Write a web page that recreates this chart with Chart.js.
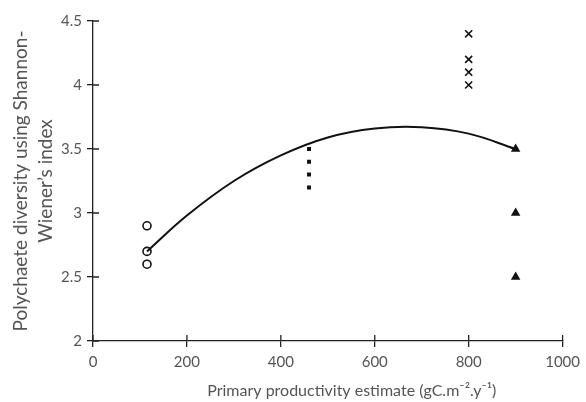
<!DOCTYPE html>
<html>
<head>
<meta charset="utf-8">
<script src="https://cdn.jsdelivr.net/npm/chart.js@4/dist/chart.umd.min.js"></script>
<style>
  html, body { margin: 0; padding: 0; background: #fff; }
  #wrap { width: 586px; height: 402px; }
</style>
</head>
<body>
<div id="wrap"><canvas id="chart"></canvas></div>
<script>
// Data
const circleX = [115, 115, 115];
const circleY = [2.9, 2.7, 2.6];
const squareX = [460, 460, 460, 460];
const squareY = [3.5, 3.4, 3.3, 3.2];
const crossX = [800, 800, 800, 800];
const crossY = [4.4, 4.2, 4.1, 4.0];
const triangleX = [900, 900, 900];
const triangleY = [3.5, 3.0, 2.5];

// Trend curve, read at several points along it
const curveX = [115, 200, 300, 400, 500, 600, 700, 800, 900];
const curveY = [2.70, 2.98, 3.25, 3.45, 3.59, 3.66, 3.67, 3.62, 3.50];

const xTicks = [0, 200, 400, 600, 800, 1000];
const yTicks = [2, 2.5, 3, 3.5, 4, 4.5];

const pts = (xs, ys) => xs.map((x, i) => ({ x: x, y: ys[i] }));

const fontFamily = "Lato, 'Open Sans', sans-serif";

// Tick marks that cross the axis lines (inner half)
const innerTicks = {
    id: 'innerTicks',
    afterDraw(chart) {
        const ctx = chart.ctx;
        const xs = chart.scales.x;
        const ys = chart.scales.y;
        ctx.save();
        ctx.strokeStyle = '#222';
        ctx.lineWidth = 1.3;
        ctx.beginPath();
        xTicks.forEach(v => {
            const px = xs.getPixelForValue(v);
            ctx.moveTo(px, ys.bottom);
            ctx.lineTo(px, ys.bottom - 6);
        });
        yTicks.forEach(v => {
            const py = ys.getPixelForValue(v);
            ctx.moveTo(xs.left, py);
            ctx.lineTo(xs.left + 6, py);
        });
        ctx.stroke();
        ctx.restore();
    }
};

new Chart(document.getElementById('chart'), {
    type: 'scatter',
    data: {
        datasets: [
            {
                type: 'line',
                data: pts(curveX, curveY),
                borderColor: '#111',
                borderWidth: 2,
                pointRadius: 0,
                tension: 0.4,
                fill: false
            },
            {
                data: pts(circleX, circleY),
                pointStyle: 'circle',
                pointRadius: 4,
                pointBorderWidth: 1.6,
                pointBorderColor: '#111',
                pointBackgroundColor: 'rgba(255,255,255,0)'
            },
            {
                data: pts(squareX, squareY),
                pointStyle: 'rect',
                pointRadius: 2.8,
                pointBorderWidth: 0,
                pointBackgroundColor: '#111'
            },
            {
                data: pts(crossX, crossY),
                pointStyle: 'crossRot',
                pointRadius: 5,
                pointBorderWidth: 1.6,
                pointBorderColor: '#111'
            },
            {
                data: pts(triangleX, triangleY),
                pointStyle: 'triangle',
                pointRadius: 5.5,
                pointBorderWidth: 0,
                pointBackgroundColor: '#111'
            }
        ]
    },
    options: {
        responsive: true,
        maintainAspectRatio: false,
        animation: false,
        layout: { padding: { top: 21, right: 19, left: 0, bottom: 0 } },
        plugins: {
            legend: { display: false },
            tooltip: { enabled: false }
        },
        scales: {
            x: {
                type: 'linear',
                min: 0,
                max: 1000,
                afterBuildTicks: axis => { axis.ticks = xTicks.map(v => ({ value: v })); },
                border: { display: true, color: '#222', width: 1.3 },
                grid: { drawOnChartArea: false, tickLength: 6, color: '#222', lineWidth: 1.3 },
                ticks: {
                    color: '#555',
                    font: { family: fontFamily, size: 15 },
                    padding: 6,
                    callback: v => String(v)
                },
                title: {
                    display: true,
                    text: '\u2003\u2003\u2003\u2003Primary productivity estimate (gC.m\u207B\u00B2.y\u207B\u00B9)',
                    color: '#555',
                    font: { family: fontFamily, size: 16 },
                    padding: { top: 0, bottom: 2 }
                },
                afterFit: axis => { axis.height = 61; }
            },
            y: {
                type: 'linear',
                min: 2,
                max: 4.5,
                afterBuildTicks: axis => { axis.ticks = yTicks.map(v => ({ value: v })); },
                border: { display: true, color: '#222', width: 1.3 },
                grid: { drawOnChartArea: false, tickLength: 6, color: '#222', lineWidth: 1.3 },
                ticks: {
                    color: '#555',
                    font: { family: fontFamily, size: 15 },
                    padding: 5,
                    callback: v => String(v)
                },
                title: {
                    display: true,
                    text: ['Polychaete diversity using Shannon-', 'Wiener\u2019s index'],
                    color: '#555',
                    font: { family: fontFamily, size: 19, lineHeight: 1.3 },
                    padding: { top: 9, bottom: 4 }
                },
                afterFit: axis => { axis.width = 93; }
            }
        }
    },
    plugins: [innerTicks]
});
</script>
</body>
</html>
